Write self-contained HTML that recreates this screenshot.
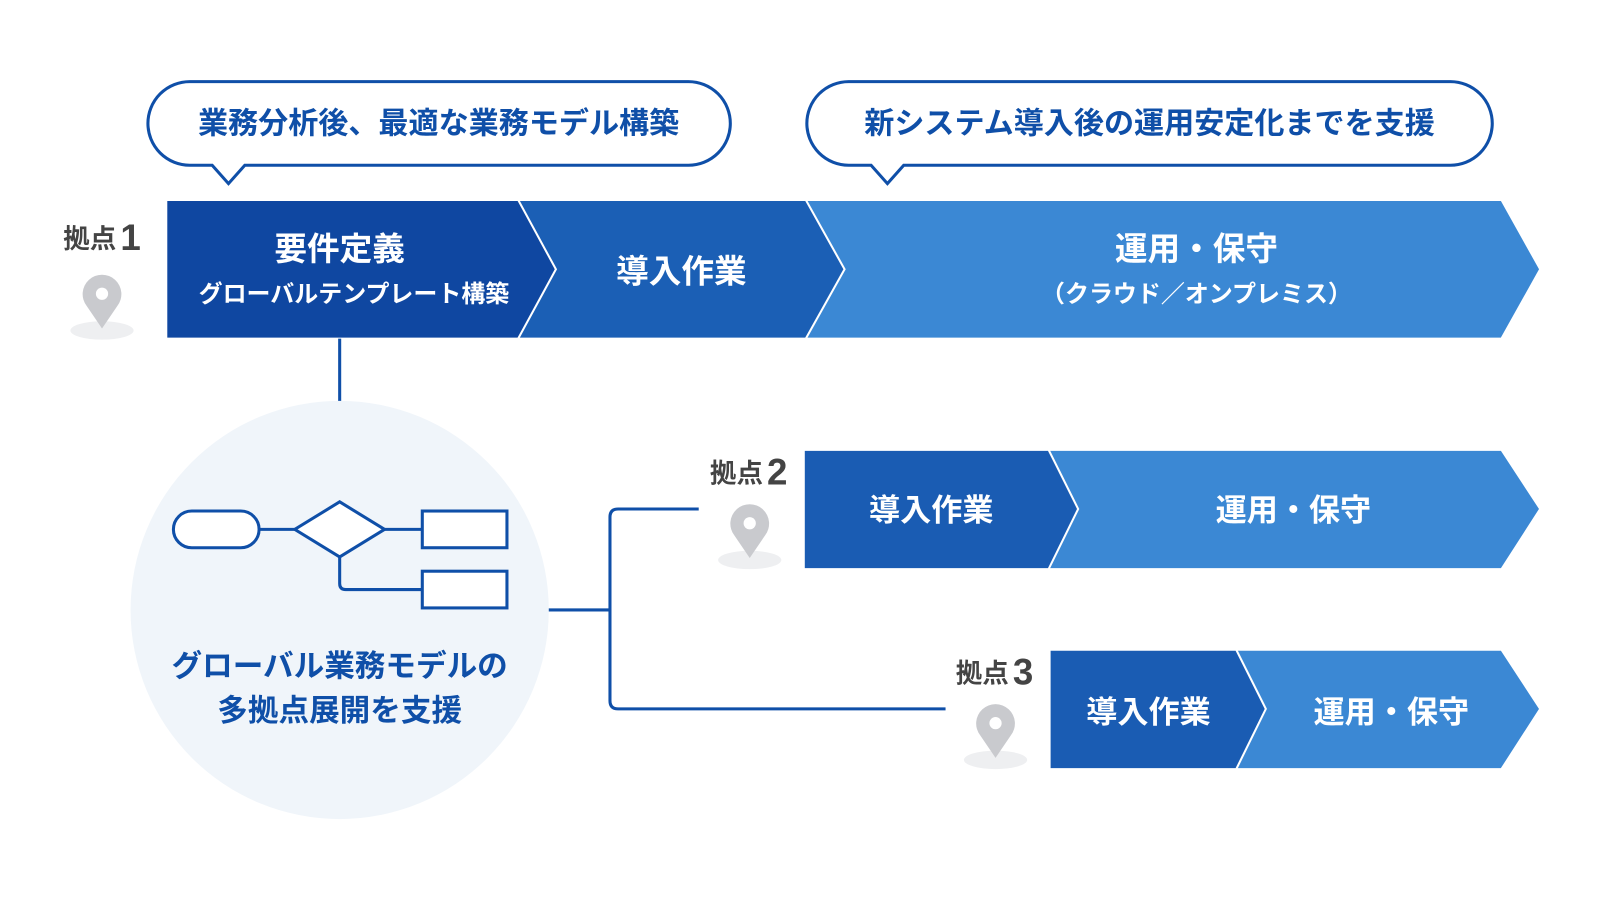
<!DOCTYPE html>
<html><head><meta charset="utf-8"><style>
body{margin:0;background:#fff;}
svg{display:block;}
svg text{font-family:"Liberation Sans","Noto Sans CJK JP",sans-serif;font-weight:bold;}
</style></head><body>
<svg width="1600" height="900" viewBox="0 0 1568.6 882.35" xmlns="http://www.w3.org/2000/svg">
<defs>
<g id="pin">
<ellipse cx="0" cy="28" rx="31" ry="9" fill="#eeeff1"/>
<path d="M0,26 L-15,4 A19,19 0 1 1 15,4 Z" fill="#c9cace"/>
<circle cx="0" cy="-8" r="6" fill="#fff"/>
</g>
</defs>
<g fill="#fff" stroke="#0f4fa8" stroke-width="3">
<path d="M186,80 H675 A41,41 0 0 1 675,162 H240 L224,180 L208,162 H186 A41,41 0 0 1 186,80 Z"/>
<path d="M832,80 H1422 A41,41 0 0 1 1422,162 H886 L870,180 L854,162 H832 A41,41 0 0 1 832,80 Z"/>
</g>
<text x="430" y="131" font-size="29.5" fill="#0f4fa8" text-anchor="middle">業務分析後、最適な業務モデル構築</text>
<text x="1127" y="131" font-size="29.5" fill="#0f4fa8" text-anchor="middle">新システム導入後の運用安定化までを支援</text>
<g stroke="#fff" stroke-width="2">
<polygon points="790,196 1472,196 1510,264 1472,332 790,332" fill="#3b88d4"/>
<polygon points="508,196 790,196 828,264 790,332 508,332" fill="#1b5fb5"/>
<polygon points="163,196 508,196 545,264 508,332 163,332" fill="#0f47a1"/>
</g>
<text x="333" y="255" font-size="32" fill="#fff" text-anchor="middle">要件定義</text>
<text x="347" y="296" font-size="23.5" fill="#fff" text-anchor="middle">グローバルテンプレート構築</text>
<text x="668" y="277" font-size="32" fill="#fff" text-anchor="middle">導入作業</text>
<text x="1173" y="255" font-size="32" fill="#fff" text-anchor="middle">運用・保守</text>
<text x="1173" y="296" font-size="23.5" fill="#fff" text-anchor="middle">（クラウド／オンプレミス）</text>
<text x="62" y="243" font-size="26" fill="#444">拠点</text><text x="118" y="245" font-size="36" fill="#444" font-weight="normal">1</text>
<use href="#pin" x="100" y="296"/>
<g stroke="#fff" stroke-width="2">
<polygon points="1028,441 1472,441 1510,499 1472,558 1028,558" fill="#3b88d4"/>
<polygon points="788,441 1028,441 1057,499 1028,558 788,558" fill="#1a5cb3"/>
</g>
<text x="913" y="511" font-size="30.5" fill="#fff" text-anchor="middle">導入作業</text>
<text x="1268" y="511" font-size="30.5" fill="#fff" text-anchor="middle">運用・保守</text>
<text x="696" y="473" font-size="26" fill="#444">拠点</text><text x="752" y="475" font-size="36" fill="#444" font-weight="normal">2</text>
<use href="#pin" x="735" y="521"/>
<g stroke="#fff" stroke-width="2">
<polygon points="1212,637 1472,637 1510,695 1472,754 1212,754" fill="#3b88d4"/>
<polygon points="1029,637 1212,637 1241,695 1212,754 1029,754" fill="#1a5cb3"/>
</g>
<text x="1126" y="709" font-size="30.5" fill="#fff" text-anchor="middle">導入作業</text>
<text x="1364" y="709" font-size="30.5" fill="#fff" text-anchor="middle">運用・保守</text>
<text x="937" y="669" font-size="26" fill="#444">拠点</text><text x="993" y="671" font-size="36" fill="#444" font-weight="normal">3</text>
<use href="#pin" x="976" y="717"/>
<line x1="333" y1="332" x2="333" y2="394" stroke="#0f4fa8" stroke-width="3"/>
<circle cx="333" cy="598" r="205" fill="#f0f5fa"/>
<g fill="#fff" stroke="#0f4fa8" stroke-width="3">
<rect x="170" y="501" width="84" height="36" rx="18"/>
<polygon points="333,492 377,519 333,546 289,519"/>
<rect x="414" y="501" width="83" height="36"/>
<rect x="414" y="560" width="83" height="36"/>
<path d="M254,519 H289 M377,519 H414 M333,546 V572 Q333,578 339,578 H414" fill="none"/>
</g>
<text x="333" y="663" font-size="30" fill="#0f4fa8" text-anchor="middle">グローバル業務モデルの</text>
<text x="333" y="707" font-size="30" fill="#0f4fa8" text-anchor="middle">多拠点展開を支援</text>
<path d="M538,598 H598 M685,499 H606 Q598,499 598,507 V687 Q598,695 606,695 H927" fill="none" stroke="#0f4fa8" stroke-width="3"/>
</svg>
</body></html>
